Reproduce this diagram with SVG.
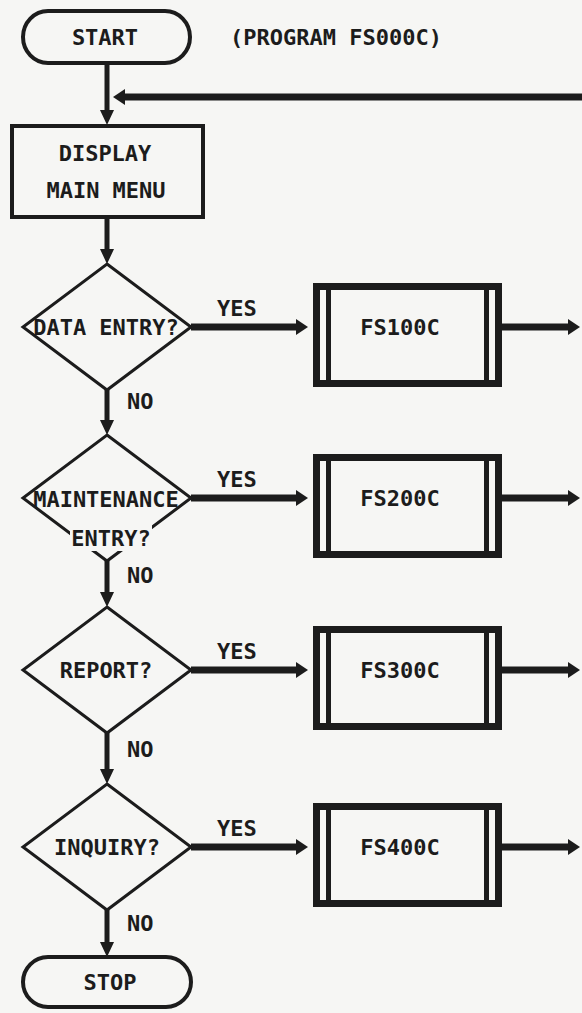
<svg xmlns="http://www.w3.org/2000/svg" width="582" height="1013" viewBox="0 0 582 1013">
  <style>
    .t { font-family: "DejaVu Sans Mono", "Liberation Mono", monospace; font-weight: bold; font-size: 22px; fill: #1c1c1c; }
    .m { text-anchor: middle; }
    .term { fill: none; stroke: #1c1c1c; stroke-width: 4; }
    .proc { fill: none; stroke: #1c1c1c; stroke-width: 4; }
    .dia { fill: none; stroke: #1c1c1c; stroke-width: 3; stroke-linejoin: miter; }
    .sub { fill: none; stroke: #1c1c1c; stroke-width: 7; }
    .subin { stroke: #1c1c1c; stroke-width: 5; }
    .v { stroke: #1c1c1c; stroke-width: 5; fill: none; marker-end: url(#hv); }
    .h { stroke: #1c1c1c; stroke-width: 7; fill: none; marker-end: url(#hh); }
    .bg { fill: #f6f6f4; }
  </style>
  <defs>
    <marker id="hv" markerUnits="userSpaceOnUse" orient="auto" markerWidth="15" markerHeight="14" refX="0" refY="7" viewBox="0 0 15 14">
      <path d="M0,0 L15,7 L0,14 z" fill="#1c1c1c"/>
    </marker>
    <marker id="hh" markerUnits="userSpaceOnUse" orient="auto" markerWidth="12" markerHeight="16" refX="0" refY="8" viewBox="0 0 12 16">
      <path d="M0,0 L12,8 L0,16 z" fill="#1c1c1c"/>
    </marker>
  </defs>
  <rect class="bg" x="0" y="0" width="582" height="1013"/>

  <g id="connectors">
    <line class="v" x1="107" y1="64" x2="107" y2="110"/>
    <line class="h" x1="582" y1="97" x2="125" y2="97"/>
    <line class="v" x1="107" y1="218" x2="107" y2="249"/>
    <line class="h" x1="191" y1="327" x2="296" y2="327"/>
    <line class="h" x1="502" y1="327" x2="568" y2="327"/>
    <line class="v" x1="107" y1="390" x2="107" y2="420"/>
    <line class="h" x1="191" y1="498" x2="296" y2="498"/>
    <line class="h" x1="502" y1="498" x2="568" y2="498"/>
    <line class="v" x1="107" y1="561" x2="107" y2="592"/>
    <line class="h" x1="191" y1="670" x2="296" y2="670"/>
    <line class="h" x1="502" y1="670" x2="568" y2="670"/>
    <line class="v" x1="107" y1="733" x2="107" y2="769"/>
    <line class="h" x1="191" y1="847" x2="296" y2="847"/>
    <line class="h" x1="502" y1="847" x2="568" y2="847"/>
    <line class="v" x1="107" y1="910" x2="107" y2="942"/>
    <text class="t" x="217" y="316">YES</text>
    <text class="t" x="217" y="487">YES</text>
    <text class="t" x="217" y="659">YES</text>
    <text class="t" x="217" y="836">YES</text>
    <text class="t" x="127" y="409">NO</text>
    <text class="t" x="127" y="583">NO</text>
    <text class="t" x="127" y="757">NO</text>
    <text class="t" x="127" y="931">NO</text>
  </g>

  <g id="start">
    <rect class="term" x="23" y="11" width="167" height="52" rx="25" ry="26"/>
    <text class="t m" x="105" y="45">START</text>
  </g>
  <g id="title">
    <text class="t" x="230" y="45">(PROGRAM FS000C)</text>
  </g>

  <g id="display">
    <rect class="proc" x="12" y="126" width="191" height="91"/>
    <text class="t m" x="105" y="161">DISPLAY</text>
    <text class="t m" x="106" y="198">MAIN MENU</text>
  </g>

  <g id="d1">
    <polygon class="dia" points="107,264 191,327 107,390 23,327"/>
    <text class="t m" x="106" y="335">DATA ENTRY?</text>
  </g>
  <g id="fs100c">
    <rect class="sub" x="316.5" y="286.5" width="182" height="97"/>
    <line class="subin" x1="328.5" y1="290" x2="328.5" y2="380"/>
    <line class="subin" x1="486.5" y1="290" x2="486.5" y2="380"/>
    <text class="t m" x="400" y="335">FS100C</text>
  </g>

  <g id="d2">
    <polygon class="dia" points="107,435 191,498 107,561 23,498"/>
    <rect class="bg" x="70" y="524" width="82" height="27"/>
    <text class="t m" x="106" y="507">MAINTENANCE</text>
    <text class="t m" x="111" y="546">ENTRY?</text>
  </g>
  <g id="fs200c">
    <rect class="sub" x="316.5" y="457.5" width="182" height="97"/>
    <line class="subin" x1="328.5" y1="461" x2="328.5" y2="551"/>
    <line class="subin" x1="486.5" y1="461" x2="486.5" y2="551"/>
    <text class="t m" x="400" y="506">FS200C</text>
  </g>

  <g id="d3">
    <polygon class="dia" points="107,607 191,670 107,733 23,670"/>
    <text class="t m" x="106" y="678">REPORT?</text>
  </g>
  <g id="fs300c">
    <rect class="sub" x="316.5" y="629.5" width="182" height="97"/>
    <line class="subin" x1="328.5" y1="633" x2="328.5" y2="723"/>
    <line class="subin" x1="486.5" y1="633" x2="486.5" y2="723"/>
    <text class="t m" x="400" y="678">FS300C</text>
  </g>

  <g id="d4">
    <polygon class="dia" points="107,784 191,847 107,910 23,847"/>
    <text class="t m" x="107" y="855">INQUIRY?</text>
  </g>
  <g id="fs400c">
    <rect class="sub" x="316.5" y="806.5" width="182" height="97"/>
    <line class="subin" x1="328.5" y1="810" x2="328.5" y2="900"/>
    <line class="subin" x1="486.5" y1="810" x2="486.5" y2="900"/>
    <text class="t m" x="400" y="855">FS400C</text>
  </g>

  <g id="stop">
    <rect class="term" x="23" y="957" width="168" height="50" rx="25" ry="25"/>
    <text class="t m" x="110" y="990">STOP</text>
  </g>
</svg>
